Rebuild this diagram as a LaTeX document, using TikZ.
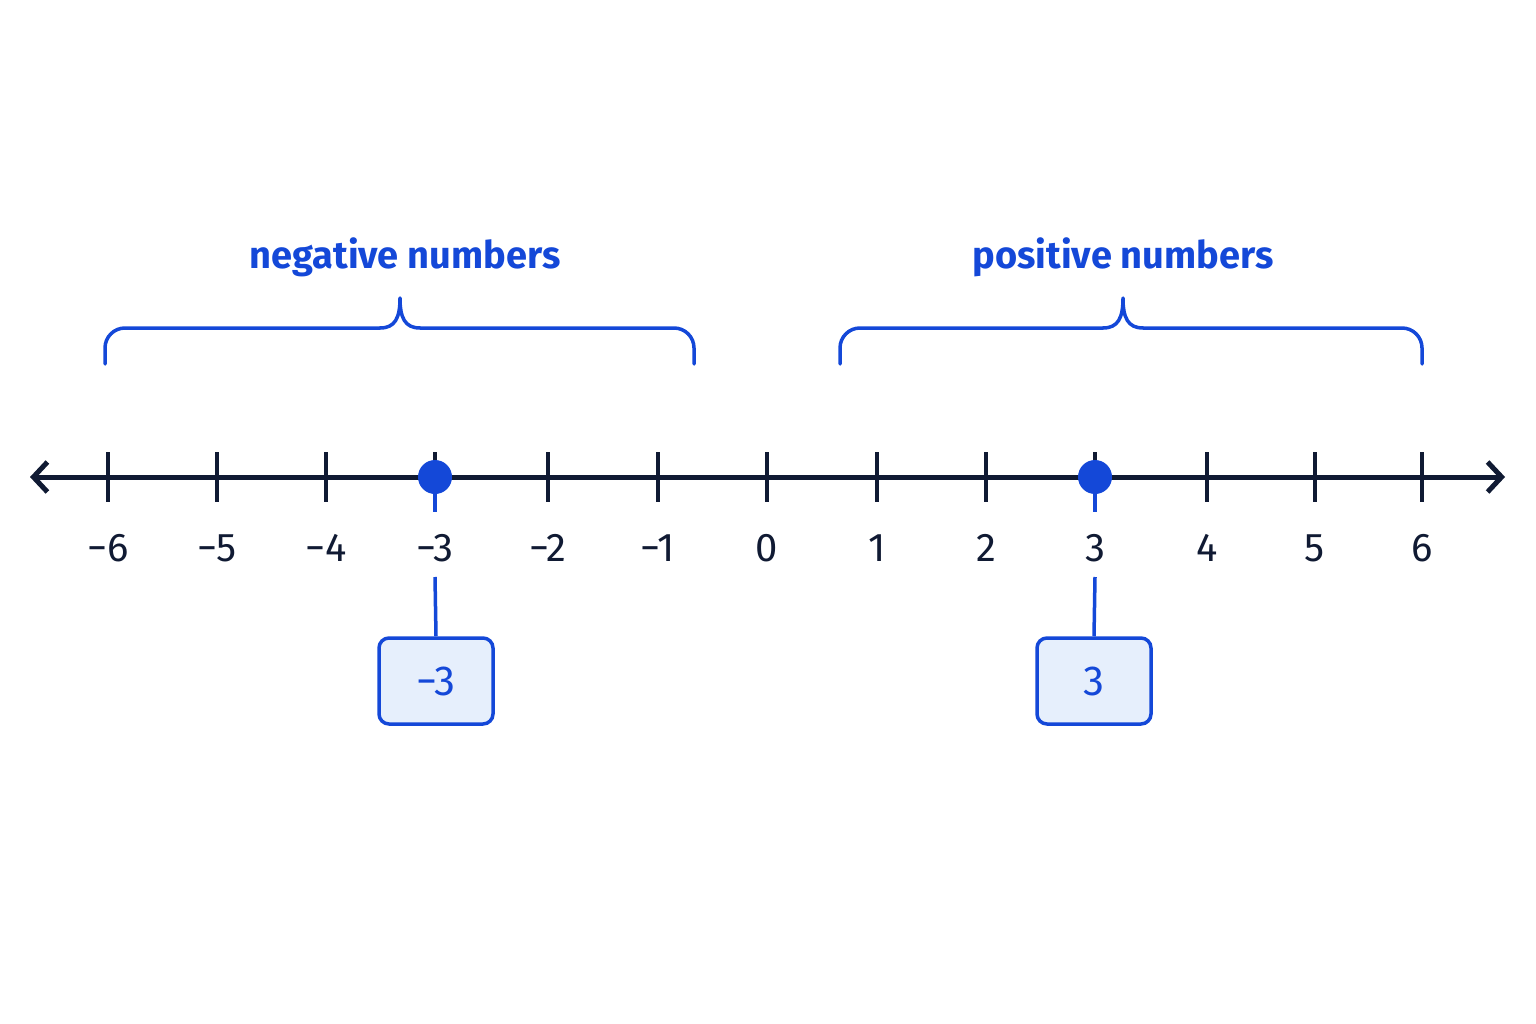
\documentclass[tikz,border=0pt]{standalone}
\usepackage{fontspec}
\setmainfont{Fira Sans}
\usetikzlibrary{arrows.meta}
\definecolor{ink}{HTML}{101A33}
\definecolor{bl}{HTML}{1448D8}
\definecolor{lb}{HTML}{E6EFFC}
\begin{document}
\begin{tikzpicture}[x=1pt,y=-1pt,
  axis/.style={ink,line width=5pt},
  tick/.style={ink,line width=3.5pt},
  num/.style={font=\fontsize{40}{40}\selectfont,text=ink},
  br/.style={bl,line width=3.5pt,line cap=round,line join=round},
  lab/.style={font=\fontsize{38}{38}\selectfont\bfseries,text=bl},
  box/.style={draw=bl,fill=lb,line width=3.5pt,rounded corners=10pt,minimum width=114pt,minimum height=86pt,font=\fontsize{42}{42}\selectfont,text=bl},
  dot/.style={circle,fill=bl,minimum size=34pt,inner sep=0pt},
  con/.style={bl,line width=3.5pt}]
\useasboundingbox (0,0) rectangle (1536,1024);
\coordinate (L) at (30,477);
\coordinate (R) at (1505,477);
\draw[axis,{Straight Barb[length=14pt,width=30pt,line width=5pt]}-{Straight Barb[length=14pt,width=30pt,line width=5pt]}] (L) -- (R);
\foreach \v/\x in {-6/108,-5/217,-4/326,-3/435,-2/548,-1/658,0/767,1/877,2/986,3/1095,4/1207,5/1315,6/1422}{
  \draw[tick] (\x,452) -- (\x,502);
  \ifnum\v<0
    \pgfmathtruncatemacro\a{-\v}
    \node[num] (n\a m) at (\x,548) {−\a};
  \else
    \node[num] (n\v) at (\x,548) {\v};
  \fi
}
\node[dot] (dm) at (435,477) {};
\node[dot] (dp) at (1095,477) {};
\node[box] (bm) at (436,681) {−3};
\node[box] (bp) at (1094,681) {3};
\coordinate (am) at (435,512); \coordinate (cm) at (435,577);
\coordinate (ap) at (1095,512); \coordinate (cp) at (1095,577);
\draw[con] (dm.south) -- (am);
\draw[con] (cm) -- (bm.north);
\draw[con] (dp.south) -- (ap);
\draw[con] (cp) -- (bp.north);
% braces
\draw[br,rounded corners=20pt] (105,364) -- (105,328) -- (380,328);
\draw[br] (380,328) .. controls (395,328) and (400,318) .. (400,298)
  .. controls (400,318) and (405,328) .. (420,328);
\draw[br,rounded corners=20pt] (420,328) -- (694,328) -- (694,364);
\draw[br,rounded corners=20pt] (840,364) -- (840,328) -- (1103,328);
\draw[br] (1103,328) .. controls (1118,328) and (1123,318) .. (1123,298)
  .. controls (1123,318) and (1128,328) .. (1143,328);
\draw[br,rounded corners=20pt] (1143,328) -- (1422,328) -- (1422,364);
\node[lab] (tneg) at (405,257) {negative numbers};
\node[lab] (tpos) at (1123,257) {positive numbers};
\end{tikzpicture}
\end{document}
